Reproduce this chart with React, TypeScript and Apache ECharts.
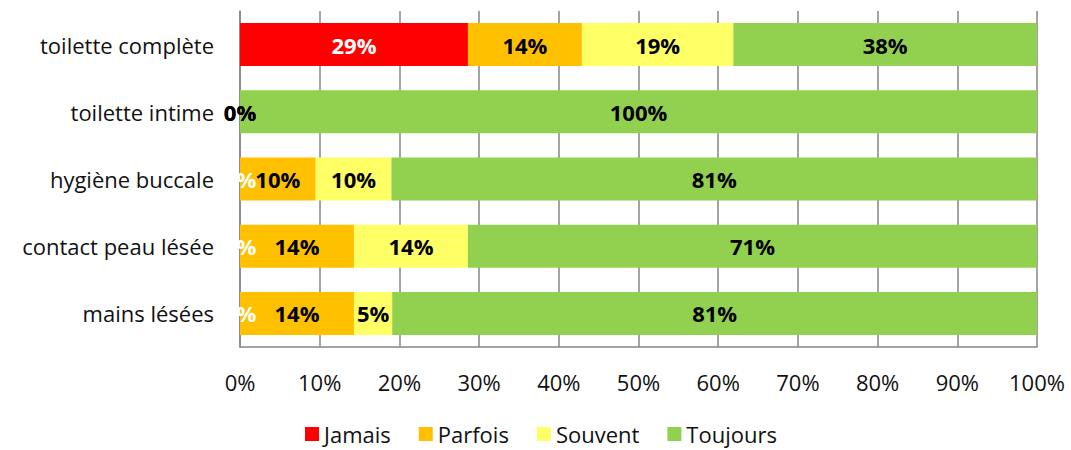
import React, { useEffect, useRef } from "react";
import * as echarts from "echarts";

const categories = ["toilette complète", "toilette intime", "hygiène buccale", "contact peau lésée", "mains lésées"];
const jamais = [28.6, 0, 0, 0, 0];
const parfois = [14.3, 0, 9.5, 14.3, 14.3];
const souvent = [19.0, 0, 9.5, 14.3, 4.8];
const toujours = [38.1, 100, 81.0, 71.4, 80.9];
const seriesNames = ["Jamais", "Parfois", "Souvent", "Toujours"];
const colors = ["#FF0000", "#FFC000", "#FFFF66", "#92D050"];
const labelColors = ["#FFFFFF", "#000000", "#000000", "#000000"];

const FONT = "'Open Sans', sans-serif";

export default function App() {
  const ref = useRef<HTMLDivElement>(null);
  useEffect(() => {
    document.body.style.margin = "0";
    const chart = echarts.init(ref.current!, null, { renderer: "svg" });
    const datasets = [jamais, parfois, souvent, toujours];
    chart.setOption({
      animation: false,
      textStyle: { fontFamily: FONT },
      grid: { left: 240, right: 34, top: 11, bottom: 103 },
      legend: {
        bottom: 0,
        left: 300,
        icon: "rect",
        itemWidth: 14,
        itemHeight: 14,
        itemGap: 28,
        textStyle: { fontSize: 22, color: "#111", fontFamily: FONT },
        data: seriesNames,
      },
      xAxis: {
        type: "value",
        min: 0,
        max: 100,
        interval: 10,
        axisLine: { show: true, lineStyle: { color: "#868686", width: 1.5 } },
        axisTick: { show: false },
        splitLine: { show: true, lineStyle: { color: "#868686", width: 1.5 } },
        axisLabel: { formatter: "{value}%", fontSize: 22, color: "#111", margin: 24, fontFamily: FONT },
      },
      yAxis: {
        type: "category",
        inverse: true,
        data: categories,
        axisLine: { show: true, lineStyle: { color: "#868686", width: 1.5 } },
        axisTick: { show: false },
        axisLabel: { fontSize: 22, color: "#111", margin: 26, fontFamily: FONT },
      },
      series: seriesNames.map((name, i) => ({
        name,
        type: "bar",
        stack: "total",
        barWidth: "64%",
        itemStyle: { color: colors[i] },
        label: {
          show: true,
          position: "inside",
          formatter: (p: any) => Math.round(p.value) + "%",
          color: labelColors[i],
          fontWeight: "bold",
          fontSize: 22,
          fontFamily: FONT,
        },
        data: datasets[i],
      })),
    });
    return () => chart.dispose();
  }, []);
  return <div ref={ref} style={{ width: 1071, height: 450 }} />;
}
